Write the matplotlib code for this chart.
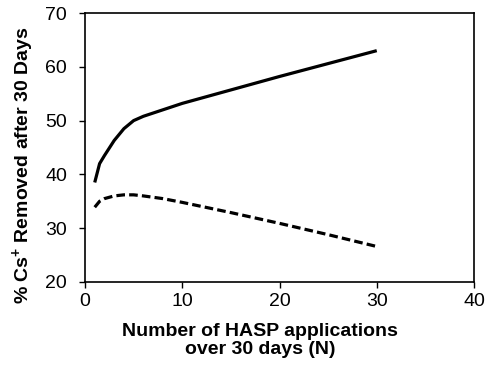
import matplotlib
matplotlib.use("Agg")
import matplotlib.pyplot as plt

plt.rcParams['font.family'] = ['Liberation Sans', 'DejaVu Sans']
plt.rcParams['mathtext.fontset'] = 'custom'
plt.rcParams['mathtext.rm'] = 'Liberation Sans:bold'
plt.rcParams['mathtext.bf'] = 'Liberation Sans:bold'

# Number of applications N
n_solid = [1, 1.5, 2, 3, 4, 5, 6, 8, 10, 15, 20, 25, 30]
removed_solid = [38.5, 42.0, 43.5, 46.3, 48.5, 50.0, 50.8, 52.0, 53.2, 55.7, 58.2, 60.6, 63.0]

n_dashed = [1, 1.5, 2, 3, 4, 5, 6, 8, 10, 15, 20, 25, 30]
removed_dashed = [33.9, 35.0, 35.5, 36.0, 36.2, 36.2, 36.0, 35.5, 34.8, 32.9, 30.9, 28.8, 26.6]

x_ticks = [0, 10, 20, 30, 40]
y_ticks = [20, 30, 40, 50, 60, 70]

fig = plt.figure(figsize=(4.91, 3.71), dpi=100)
ax = fig.add_axes([85 / 491, 1 - 282 / 371, 389 / 491, 269 / 371])

ax.plot(n_solid, removed_solid, color='black', lw=2.3, solid_capstyle='butt')
ax.plot(n_dashed, removed_dashed, color='black', lw=2.3, dashes=(2.7, 1.3))

ax.set_xlim(0, 40)
ax.set_ylim(20, 70)
ax.set_xticks(x_ticks)
ax.set_yticks(y_ticks)
ax.tick_params(direction='out', length=4, width=1, labelsize=14)
ax.tick_params(axis='x', pad=4)
ax.tick_params(axis='y', pad=9)
for s in ax.spines.values():
    s.set_linewidth(1.2)

ax.set_xlabel('Number of HASP applications\nover 30 days (N)', fontsize=14,
              fontweight='bold', linespacing=1.05)
ax.xaxis.set_label_coords(0.45, -0.152)
ax.set_ylabel(r'% Cs$^{+}$ Removed after 30 Days', fontsize=14, fontweight='bold')
ax.yaxis.set_label_coords(-0.123, 0.435)

fig.savefig('out.png', dpi=100)
